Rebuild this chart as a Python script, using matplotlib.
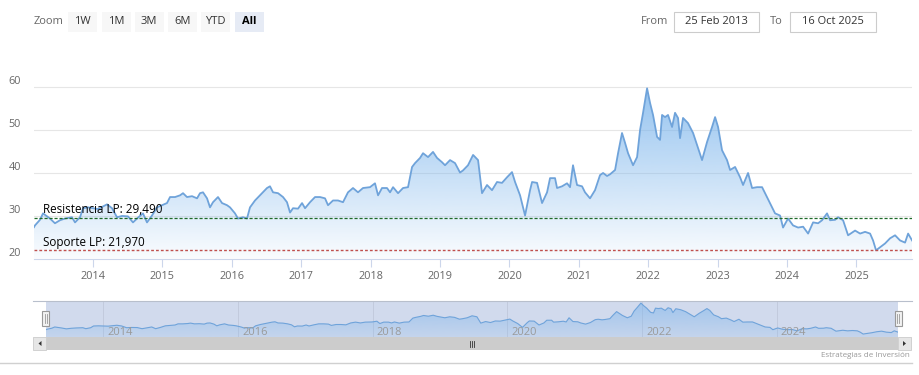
import matplotlib
matplotlib.use("Agg")
import matplotlib.pyplot as plt
import numpy as np
from matplotlib.patches import Rectangle, Polygon

plt.rcParams["font.family"] = ["Open Sans", "DejaVu Sans"]

# serie (año decimal, precio)
years = [
    2013.150, 2013.164, 2013.236, 2013.280, 2013.380, 2013.452, 2013.524, 2013.597,
    2013.697, 2013.741, 2013.813, 2013.856, 2013.928, 2014.000, 2014.072, 2014.144,
    2014.202, 2014.274, 2014.346, 2014.418, 2014.504, 2014.576, 2014.648, 2014.720,
    2014.778, 2014.850, 2014.922, 2014.994, 2015.066, 2015.110, 2015.182, 2015.254,
    2015.297, 2015.354, 2015.427, 2015.499, 2015.542, 2015.585, 2015.643, 2015.686,
    2015.729, 2015.801, 2015.859, 2015.931, 2015.974, 2016.046, 2016.089, 2016.161,
    2016.219, 2016.262, 2016.334, 2016.406, 2016.450, 2016.507, 2016.550, 2016.594,
    2016.666, 2016.738, 2016.795, 2016.839, 2016.882, 2016.954, 2017.012, 2017.055,
    2017.127, 2017.199, 2017.271, 2017.343, 2017.386, 2017.458, 2017.530, 2017.602,
    2017.674, 2017.746, 2017.818, 2017.890, 2017.991, 2018.063, 2018.107, 2018.164,
    2018.236, 2018.280, 2018.323, 2018.395, 2018.467, 2018.539, 2018.597, 2018.640,
    2018.712, 2018.755, 2018.827, 2018.899, 2018.957, 2019.029, 2019.072, 2019.144,
    2019.216, 2019.288, 2019.331, 2019.403, 2019.476, 2019.548, 2019.605, 2019.677,
    2019.749, 2019.821, 2019.893, 2019.965, 2020.037, 2020.081, 2020.153, 2020.225,
    2020.297, 2020.326, 2020.398, 2020.470, 2020.542, 2020.585, 2020.657, 2020.686,
    2020.758, 2020.830, 2020.873, 2020.916, 2020.974, 2021.046, 2021.089, 2021.161,
    2021.233, 2021.305, 2021.349, 2021.406, 2021.450, 2021.522, 2021.565, 2021.622,
    2021.666, 2021.709, 2021.781, 2021.839, 2021.882, 2021.925, 2021.983, 2022.026,
    2022.069, 2022.127, 2022.170, 2022.199, 2022.242, 2022.285, 2022.343, 2022.386,
    2022.429, 2022.458, 2022.501, 2022.573, 2022.646, 2022.703, 2022.775, 2022.847,
    2022.919, 2022.963, 2023.006, 2023.063, 2023.135, 2023.179, 2023.251, 2023.323,
    2023.366, 2023.438, 2023.496, 2023.568, 2023.640, 2023.683, 2023.755, 2023.827,
    2023.899, 2023.942, 2024.014, 2024.086, 2024.159, 2024.231, 2024.303, 2024.375,
    2024.447, 2024.504, 2024.576, 2024.620, 2024.692, 2024.735, 2024.807, 2024.879,
    2024.980, 2025.052, 2025.124, 2025.196, 2025.239, 2025.282, 2025.340, 2025.412,
    2025.484, 2025.556, 2025.628, 2025.700, 2025.744, 2025.801,
]
prices = [
    27.3, 27.7, 29.0, 30.5, 29.3, 28.2, 28.9, 29.3,
    29.6, 28.4, 29.6, 31.7, 31.9, 31.7, 31.5, 32.1,
    32.6, 31.7, 29.6, 29.9, 29.8, 28.4, 29.5, 30.5,
    28.4, 30.0, 31.9, 32.4, 32.9, 34.3, 34.3, 34.7,
    35.2, 34.3, 34.5, 34.0, 35.2, 35.4, 34.0, 31.9,
    33.1, 34.3, 32.9, 32.4, 31.9, 30.5, 29.3, 29.6,
    29.3, 31.9, 33.5, 34.7, 35.4, 36.4, 36.8, 35.4,
    35.2, 34.3, 33.1, 30.7, 31.7, 31.6, 32.9, 31.7,
    33.1, 34.3, 34.3, 34.0, 32.4, 33.5, 33.5, 33.1,
    35.4, 36.4, 35.4, 36.4, 36.6, 37.5, 34.7, 36.4,
    36.4, 35.4, 36.6, 35.2, 36.4, 36.6, 41.3, 42.2,
    43.4, 44.5, 43.6, 44.8, 43.4, 42.4, 41.7, 42.9,
    42.2, 40.0, 40.5, 41.7, 44.1, 42.9, 35.2, 37.1,
    35.9, 37.8, 37.6, 38.9, 40.1, 37.8, 34.7, 30.0,
    35.9, 37.8, 37.6, 32.9, 35.4, 38.7, 38.7, 36.4,
    36.8, 37.5, 36.6, 41.7, 37.1, 36.8, 35.4, 34.0,
    35.9, 39.4, 39.9, 39.2, 39.6, 40.6, 44.5, 49.2,
    46.9, 44.5, 41.7, 43.6, 49.9, 53.9, 59.6, 56.2,
    53.4, 48.3, 47.6, 53.4, 52.9, 53.4, 50.6, 53.9,
    52.7, 48.0, 52.7, 51.5, 49.2, 46.4, 42.9, 47.1,
    50.6, 52.9, 50.6, 45.2, 42.9, 40.6, 41.3, 38.9,
    37.1, 39.9, 36.4, 36.6, 36.6, 35.2, 32.9, 30.5,
    30.0, 27.2, 29.3, 27.7, 27.2, 27.4, 25.8, 28.4,
    28.2, 28.9, 30.5, 28.9, 29.0, 29.6, 28.9, 25.4,
    26.5, 25.8, 26.2, 25.8, 24.2, 21.9, 22.6, 23.5,
    24.7, 25.4, 24.2, 23.7, 25.8, 24.2,
]

resistencia = 29.490
soporte = 21.970
year_ticks = list(range(2014, 2026))
nav_ticks = [2014, 2016, 2018, 2020, 2022, 2024]
y_ticks = [20, 30, 40, 50, 60]
zoom_buttons = ["1W", "1M", "3M", "6M", "YTD", "All"]
date_from = "25 Feb 2013"
date_to = "16 Oct 2025"

W, H = 919, 375
LINE = "#6fa3da"
TXT = "#666666"


def fx(px):
    return px / W


def fy(py):
    return 1 - py / H


def gradient_area(ax, x, y, ymin, ymax, alpha_top=0.85, alpha_bot=0.04):
    """relleno con degradado vertical recortado por el área bajo la serie"""
    grad = np.zeros((256, 1, 4))
    rgb = matplotlib.colors.to_rgb("#7cb5ec")
    grad[:, 0, :3] = rgb
    grad[:, 0, 3] = np.linspace(alpha_top, alpha_bot, 256)
    im = ax.imshow(grad, aspect="auto", origin="upper",
                   extent=[x[0], x[-1], ymin, ymax], zorder=1)
    verts = [(x[0], ymin)] + list(zip(x, y)) + [(x[-1], ymin)]
    poly = Polygon(verts, closed=True, facecolor="none", edgecolor="none")
    ax.add_patch(poly)
    im.set_clip_path(poly)


fig = plt.figure(figsize=(W / 100, H / 100), dpi=100)

# --- gráfico principal ---
ax = fig.add_axes([fx(34), fy(258.5), fx(912) - fx(34), fy(78) - fy(258.5)])
x = np.array(years)
y = np.array(prices)
ax.set_xlim(2013.15, 2025.80)
ax.set_ylim(20, 62)
for v in y_ticks[1:]:
    ax.axhline(v, color="#e6e6e6", lw=0.8, zorder=0)
gradient_area(ax, x, y, 20, 62)
ax.plot(x, y, color=LINE, lw=1.3, zorder=3)

ax.axhline(resistencia, color="#1f6b2a", lw=0.9, ls=(0, (2.5, 1.5)), zorder=4)
ax.axhline(soporte, color="#c0504d", lw=1.0, ls=(0, (2, 1.5)), zorder=4)
ax.text(2013.28, resistencia + 0.35, "Resistencia LP: 29,490", fontsize=8.4,
        color="black", va="bottom", ha="left", zorder=5)
ax.text(2013.28, soporte + 0.35, "Soporte LP: 21,970", fontsize=8.4,
        color="black", va="bottom", ha="left", zorder=5)

for s in ["top", "right", "left"]:
    ax.spines[s].set_visible(False)
ax.spines["bottom"].set_color("#ccd6eb")
ax.set_xticks(year_ticks)
ax.set_xticklabels([str(t) for t in year_ticks])
ax.tick_params(axis="x", colors="#ccd6eb", labelcolor=TXT, labelsize=7.8,
               length=6, pad=3)
ax.set_yticks([])
ax.set_facecolor("none")
for v in y_ticks:
    ax.text(-0.015, v + 1.1, str(v), transform=ax.get_yaxis_transform(),
            ha="right", va="center", fontsize=7.8, color=TXT)

# --- navegador ---
nav = fig.add_axes([fx(46), fy(337), fx(898) - fx(46), fy(301) - fy(337)])
nav.set_xlim(2013.15, 2025.80)
nav.set_ylim(18.3, 62.1)
nav.set_facecolor("#d1daed")
gradient_area(nav, x, y, 18.3, 62.1, alpha_top=0.6, alpha_bot=0.15)
nav.plot(x, y, color=LINE, lw=0.8, zorder=3)
for t in nav_ticks:
    nav.axvline(t, color="#c0c8da", lw=0.6, zorder=0)
    nav.text(t + 0.06, 23.5, str(t), fontsize=8, color="#9a9a9a",
             ha="left", va="center", zorder=4)
nav.set_xticks([])
nav.set_yticks([])
for s in nav.spines.values():
    s.set_visible(False)

# contorno superior del navegador
fig.add_artist(plt.Line2D([fx(33), fx(912)], [fy(301), fy(301)],
                          transform=fig.transFigure, color="#b8bfcc", lw=0.8))

# tiradores
for hx in (45.5, 898):
    fig.add_artist(Rectangle((fx(hx - 3.5), fy(326)), fx(7), fy(311) - fy(326),
                             transform=fig.transFigure, facecolor="#f2f2f2",
                             edgecolor="#999999", lw=0.8))
    fig.add_artist(plt.Line2D([fx(hx - 1), fx(hx - 1)], [fy(314), fy(323)],
                              transform=fig.transFigure, color="#999999", lw=0.6))
    fig.add_artist(plt.Line2D([fx(hx + 1), fx(hx + 1)], [fy(314), fy(323)],
                              transform=fig.transFigure, color="#999999", lw=0.6))

# barra de desplazamiento
fig.add_artist(Rectangle((fx(33), fy(350)), fx(912) - fx(33), fy(337) - fy(350),
                         transform=fig.transFigure, facecolor="#f2f2f2",
                         edgecolor="none"))
fig.add_artist(Rectangle((fx(46), fy(350)), fx(898) - fx(46), fy(337) - fy(350),
                         transform=fig.transFigure, facecolor="#cccccc",
                         edgecolor="none"))
for bx in (33, 898):
    fig.add_artist(Rectangle((fx(bx), fy(350)), fx(13), fy(337) - fy(350),
                             transform=fig.transFigure, facecolor="#e6e6e6",
                             edgecolor="#cccccc", lw=0.6))
fig.add_artist(Polygon([(fx(41.5), fy(341)), (fx(41.5), fy(346)), (fx(38.5), fy(343.5))],
                       closed=True, transform=fig.transFigure,
                       facecolor="#333333", edgecolor="none"))
fig.add_artist(Polygon([(fx(903), fy(341)), (fx(903), fy(346)), (fx(906), fy(343.5))],
                       closed=True, transform=fig.transFigure,
                       facecolor="#333333", edgecolor="none"))
for gx in (470, 472, 474):
    fig.add_artist(plt.Line2D([fx(gx), fx(gx)], [fy(340.5), fy(346.5)],
                              transform=fig.transFigure, color="#333333", lw=0.6))

fig.text(fx(910), fy(355.5), "Estrategias de Inversión", fontsize=5.8,
         color="#999999", ha="right", va="center")
fig.add_artist(plt.Line2D([0, fx(912)], [fy(362.5), fy(362.5)],
                          transform=fig.transFigure, color="#d0d0d0", lw=1.0))

# --- selector de rango ---
fig.text(fx(34), fy(21), "Zoom", fontsize=8, color=TXT, ha="left", va="center")
btn_x = [68, 102, 135, 168, 201, 235]
for bx, lab in zip(btn_x, zoom_buttons):
    sel = lab == "All"
    fig.add_artist(Rectangle((fx(bx), fy(32)), fx(28.5), fy(12) - fy(32),
                             transform=fig.transFigure,
                             facecolor="#e6ebf5" if sel else "#f7f7f7",
                             edgecolor="none"))
    fig.text(fx(bx + 14.25), fy(21.5), lab, fontsize=8,
             color="black" if sel else "#333333",
             fontweight="bold" if sel else "normal", ha="center", va="center")

fig.text(fx(641), fy(21), "From", fontsize=8, color=TXT, ha="left", va="center")
fig.text(fx(770), fy(21), "To", fontsize=8, color=TXT, ha="left", va="center")
for (x0, x1), lab in zip([(674, 759), (790, 876)], [date_from, date_to]):
    fig.add_artist(Rectangle((fx(x0), fy(32)), fx(x1 - x0), fy(12) - fy(32),
                             transform=fig.transFigure, facecolor="white",
                             edgecolor="#cccccc", lw=0.8))
    fig.text(fx((x0 + x1) / 2), fy(21.5), lab, fontsize=8, color="#333333",
             ha="center", va="center")

fig.savefig("out.png", dpi=100)
